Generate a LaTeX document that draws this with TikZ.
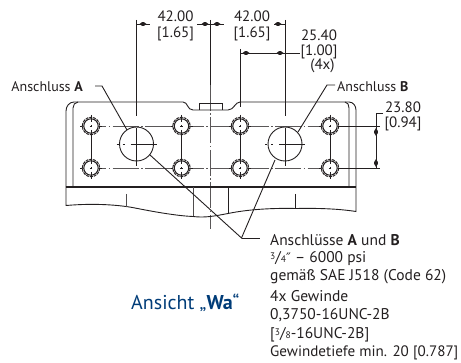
\documentclass[tikz,border=0pt]{standalone}
\usepackage{fontspec}
\setmainfont{PT Sans}
\newfontfamily\symfont{DejaVu Sans}
\definecolor{ink}{RGB}{35,31,32}
\definecolor{bluetxt}{RGB}{0,60,120}
\newcommand{\fsb}{\fontsize{15.5}{18}\selectfont}
\newcommand{\fsm}{\fontsize{9.5}{10}\selectfont}
\tikzset{
  lbl/.style={inner sep=0pt,anchor=west,font=\fsb,text=ink},
  toplbl/.style={inner sep=0pt,anchor=west,font=\fontsize{14}{16}\selectfont,text=ink},
  dimtxt/.style={inner sep=0pt,anchor=center,font=\fontsize{15}{17}\selectfont,text=ink},
  ln/.style={draw=ink,line width=0.9pt},
  thin ln/.style={draw=ink!80,line width=0.8pt},
  thick ln/.style={draw=ink,line width=1.9pt},
  cl/.style={draw=ink!75,line width=0.8pt,dash pattern=on 26pt off 2.5pt on 1.5pt off 2.5pt},
  blob/.style={fill=ink,draw=none}
}
\newcommand{\holeat}[2]{%
  \fill[white] (#1,#2) circle (7.4);
  \draw[ln,line width=1pt] (#1,#2) circle (7.2);
  \draw[ln,line width=1pt,dash pattern=on 3pt off 0.9pt] (#1,#2) circle (8.7);
  \draw[ink,line width=0.6pt] (#1-11,#2)--(#1-9,#2) (#1-1.2,#2)--(#1+1.2,#2) (#1+9,#2)--(#1+11,#2);
  \draw[ink,line width=0.6pt] (#1,#2-11)--(#1,#2-4) (#1,#2-1.2)--(#1,#2+1.2) (#1,#2+4)--(#1,#2+11);
}
\newcommand{\hblob}[2]{\fill[blob] (#1-3.5,#2) -- (#1-1,#2-1.8) -- (#1+1,#2-1.8) -- (#1+3.5,#2) -- (#1+1,#2+1.8) -- (#1-1,#2+1.8) -- cycle;}
\newcommand{\vblob}[2]{\fill[blob] (#1,#2-4) -- (#1-1.8,#2-1) -- (#1-1.8,#2+1) -- (#1,#2+4) -- (#1+1.8,#2+1) -- (#1+1.8,#2-1) -- cycle;}
\begin{document}
\begin{tikzpicture}[x=1pt,y=-1pt]
\useasboundingbox (0,0) rectangle (461,363);
% center lines
\draw[cl] (210.5,85)--(210.5,229);
\draw[ln] (210.5,20)--(210.5,85);
\draw[cl] (80,126)--(341,126);
\draw[cl] (80,168)--(341,168);
% body
\draw[ln] (66,187) -- (66,111) to[out=90,in=180] (74,102) -- (183,102)
   .. controls (188,102) and (187,110) .. (193,110) -- (228,110)
   .. controls (234,110) and (235,102) .. (240,102) -- (345,102)
   to[out=0,in=90] (349,108) -- (349,187);
\draw[ln] (73,187) -- (73,108) to[out=90,in=180] (78,102);
\draw[ln] (345,102) -- (349,102) to[out=0,in=90] (356,110) -- (356,187);
\draw[ln] (199,110) -- (199,103.5) -- (222.5,103.5) -- (222.5,110);
\draw[thick ln] (66,187) -- (356,187);
\draw[ln] (66,187) -- (66,205.5)
  .. controls (95,203) and (120,205) .. (135,208)
  .. controls (160,213) and (180,216) .. (193,216.5)
  .. controls (205,218) and (215,216) .. (228,213.5)
  .. controls (250,209) and (275,208) .. (296,208.5)
  .. controls (320,208) and (340,209) .. (356,211.5) -- (356,187);
\draw[thin ln] (126,194)--(126,207.5);
\draw[thin ln] (193,187)--(193,216.5);
\draw[ln] (228,187)--(228,213.5);
\draw[ln] (295.7,194)--(295.7,208.5);
% hole links
\foreach \x in {91,181.5,240,330} {\draw[ln,line width=1pt] (\x,133)--(\x,161);}
\foreach \x in {91,181.5,240,330} {\foreach \y in {126,168} {\holeat{\x}{\y}}}
% ports
\foreach \x in {136.5,285} {
  \node[circle,draw=ink,fill=white,line width=0.9pt,minimum size=34pt,inner sep=0pt] at (\x,144) {};
  \draw[ln] (\x-6,144)--(\x+20,144) (\x,128)--(\x,166);
  \draw[ink,line width=0.6pt] (\x-20,144)--(\x-18,144) (\x-14,144)--(\x-12,144);
}
% dimension lines
\coordinate (e1t) at (136.5,20); \coordinate (e1b) at (136.5,116);
\coordinate (e2t) at (285,20); \coordinate (e2b) at (285,116);
\coordinate (e3t) at (240,49); \coordinate (e3b) at (240,107);
\draw[ln] (e1t)--(e1b) (e2t)--(e2b) (e3t)--(e3b);
\draw[ln] (136.5,24)--(150,24) (197,24)--(224,24) (274,24)--(285,24);
\draw[ln] (240,53)--(300,53);
\hblob{143}{24}\hblob{205}{24}\hblob{217}{24}\hblob{278}{24}
\hblob{246}{53}\hblob{280}{53}
\draw[ln] (339,126)--(380,126) (339,168)--(380,168);
\draw[ln] (383,113)--(376,113)--(376,168);
\vblob{376}{132}\vblob{376}{163}
% leaders
\coordinate (pa) at (127,130); \coordinate (pb) at (298,132);
\coordinate (j) at (241.5,238);
\draw[ln] (95,86)--(102,86)--(pa);
\draw[ln] (335,85)--(327,85)--(pb);
\draw[ln] (150,155)--(j)--(275,160);
\draw[ln] (j)--(260,238);
% labels
\node[dimtxt] (t1) at (175.5,16) {42.00};
\node[dimtxt] (t2) at (175.5,34) {[1.65]};
\node[dimtxt] (t3) at (252,16) {42.00};
\node[dimtxt] (t4) at (252,34) {[1.65]};
\node[dimtxt] (t5) at (319,35) {25.40};
\node[dimtxt] (t6) at (319,52) {[1.00]};
\node[dimtxt] (t7) at (322.5,66) {(4x)};
\node[dimtxt] (t8) at (403,107) {23.80};
\node[dimtxt] (t9) at (403,124) {[0.94]};
\node[toplbl,anchor=east] (a) at (83,87) {Anschluss \textbf{A}};
\node[toplbl] (b) at (337,87) {Anschluss \textbf{B}};
\node[lbl] (l1) at (270,240) {Anschlüsse \textbf{A} und \textbf{B}};
\node[lbl] (l2) at (270,259) {\fsm\raisebox{3pt}{3}\fsb/\fsm 4\fsb{\symfont\fontsize{13}{15}\selectfont″} – 6000 psi};
\node[lbl] (l3) at (270,277) {gemäß SAE J518 (Code 62)};
\node[lbl] (l4) at (270,296) {4x Gewinde};
\node[lbl] (l5) at (270,315) {0,3750-16UNC-2B};
\node[lbl] (l6) at (270,335) {[\fsm\raisebox{3pt}{3}\fsb/\fsm 8\fsb-16UNC-2B]};
\node[lbl,font=\fontsize{15.1}{18}\selectfont] (l7) at (270,353) {Gewindetiefe min. 20 [0.787]};
\node[inner sep=0pt,anchor=west,text=bluetxt,font=\fontsize{20}{23}\selectfont] (w) at (131,303) {Ansicht „\textbf{Wa}“};
\end{tikzpicture}
\end{document}
